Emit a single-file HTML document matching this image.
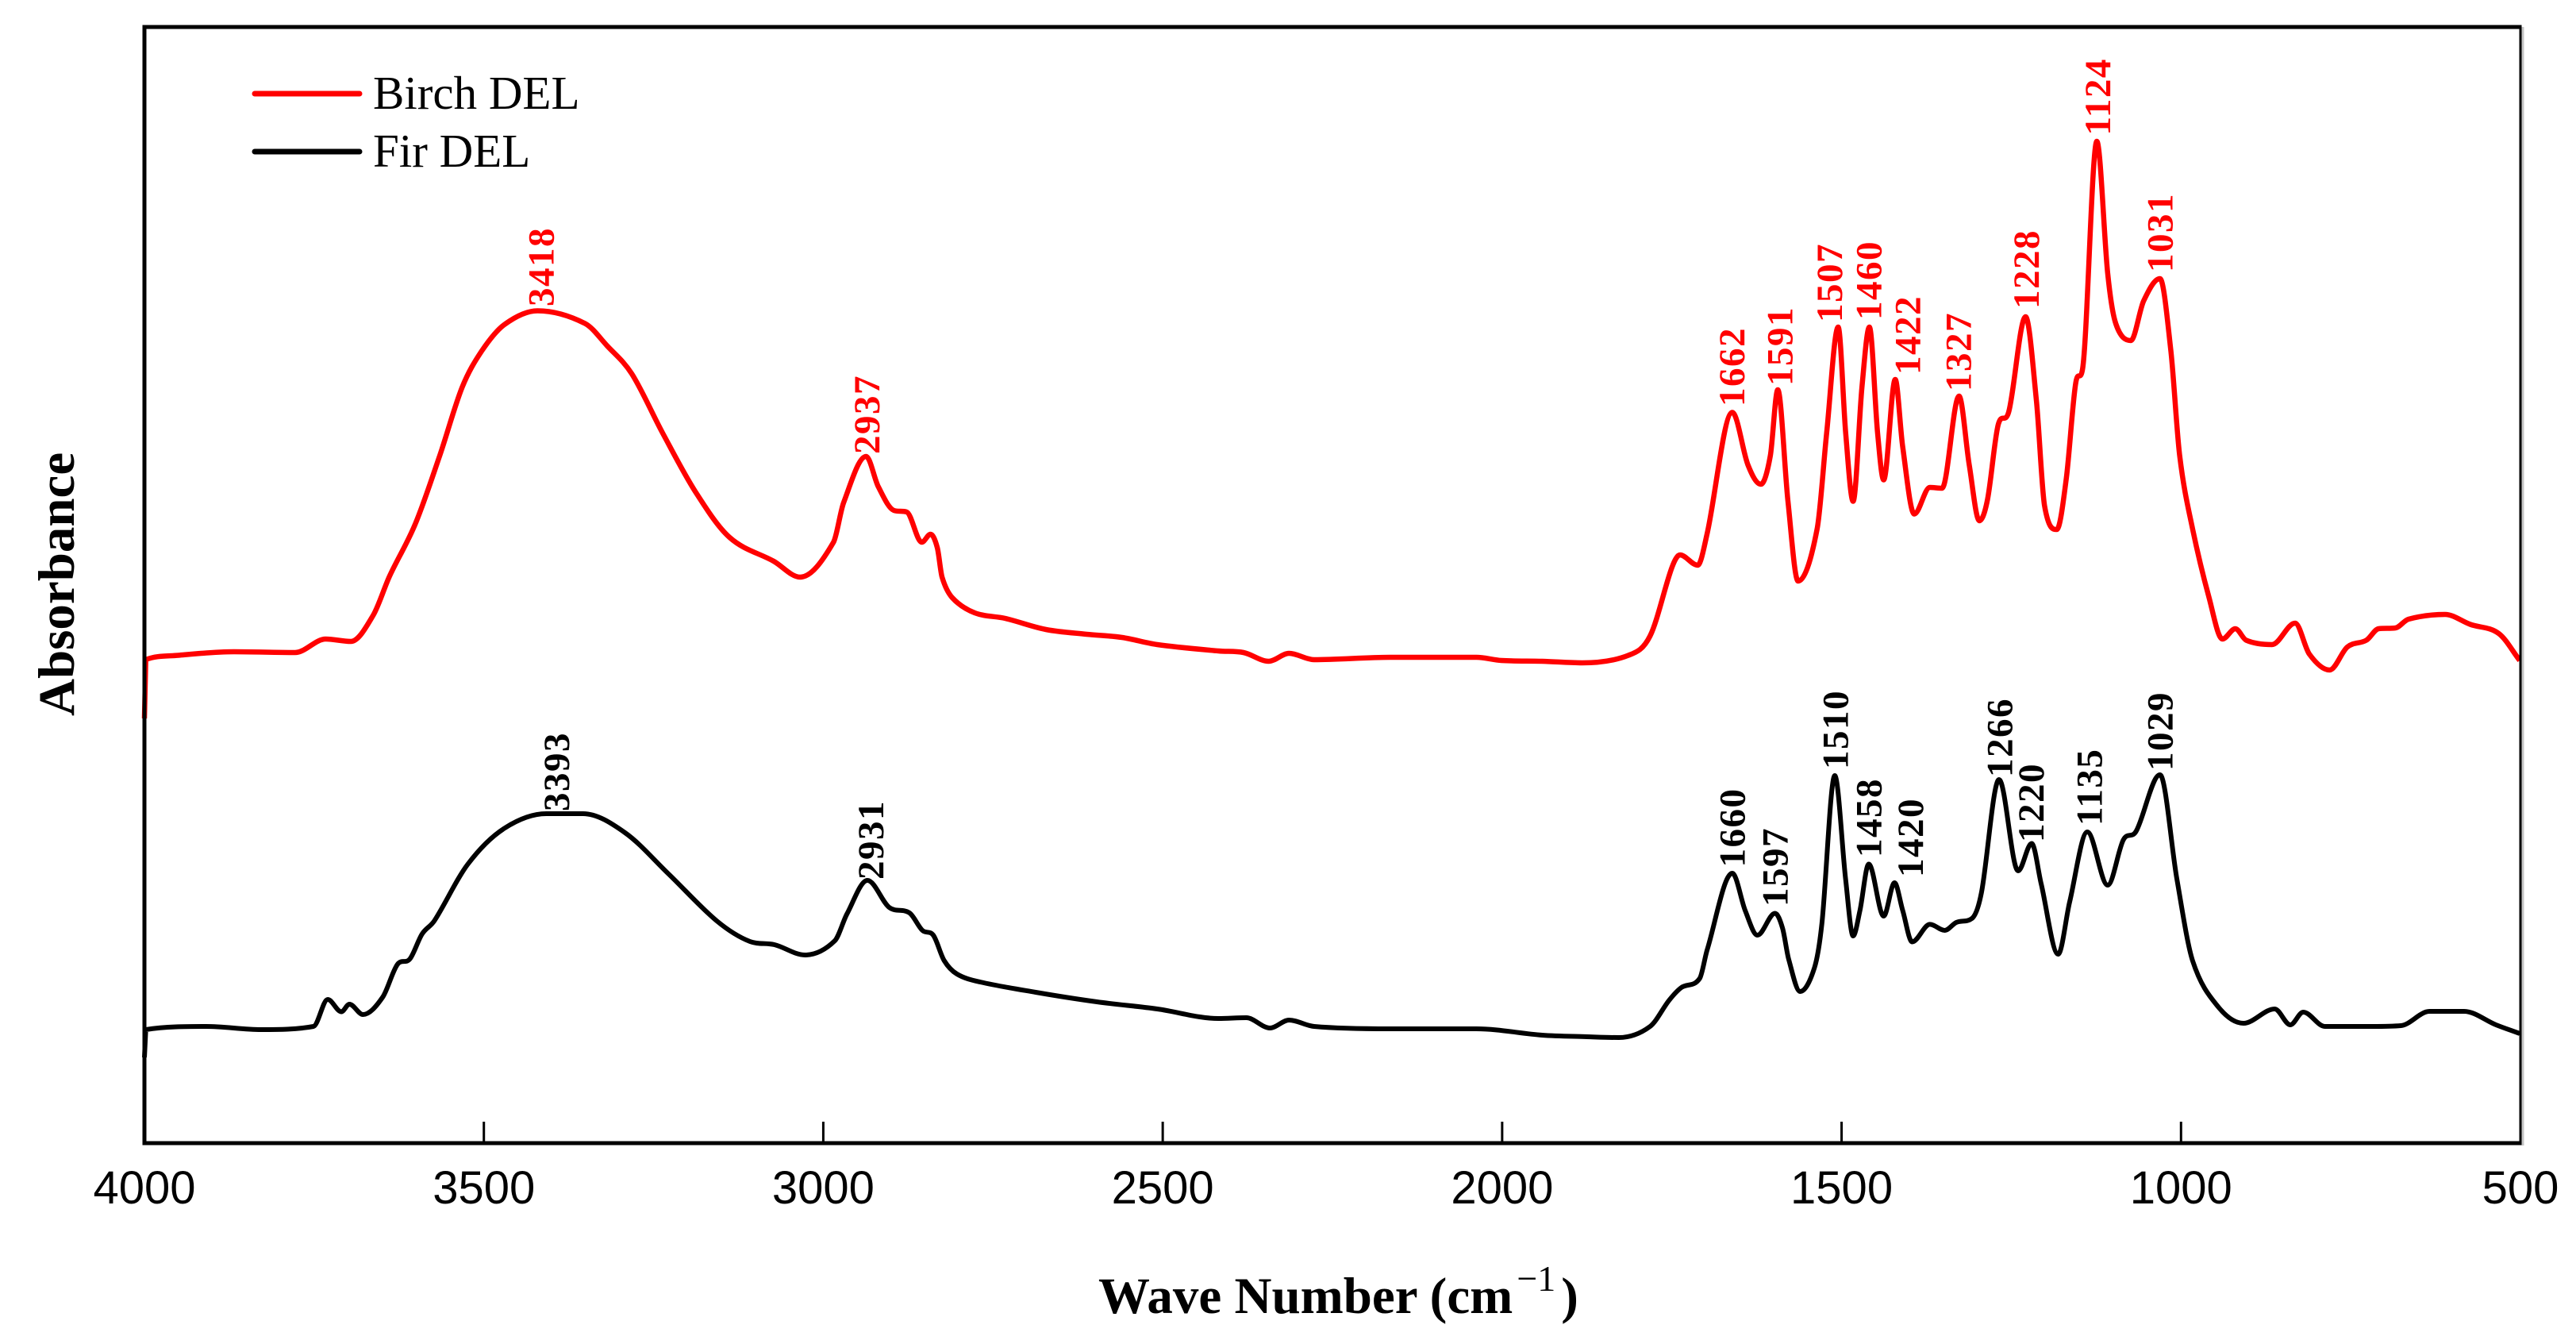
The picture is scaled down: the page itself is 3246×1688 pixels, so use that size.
<!DOCTYPE html>
<html lang="en">
<head>
<meta charset="utf-8">
<title>FTIR spectra of Birch DEL and Fir DEL</title>
<style>
  html, body { margin: 0; padding: 0; background: #fff; }
  #chart { display: block; }
  text { font-family: "Liberation Serif", serif; }
</style>
</head>
<body>
<svg id="chart" xmlns="http://www.w3.org/2000/svg" width="3246" height="1688" viewBox="0 0 3246 1688">
  <rect x="0" y="0" width="3246" height="1688" fill="#ffffff"/>
  <g id="series-layer"></g>
  <g id="peak-layer"></g>
  <g id="axis-layer"></g>

  <line x1="321" y1="118" x2="453" y2="118" stroke="#ff0000" stroke-width="7" stroke-linecap="round"/>
  <text x="470" y="137" font-size="59" fill="#000">Birch DEL</text>
  <line x1="321" y1="191" x2="453" y2="191" stroke="#000000" stroke-width="7" stroke-linecap="round"/>
  <text x="470" y="210" font-size="59" fill="#000">Fir DEL</text>

  <text transform="translate(93,902) rotate(-90)" font-size="65" font-weight="bold" fill="#000">Absorbance</text>
  <text x="1384" y="1654" font-size="65" font-weight="bold" fill="#000">Wave Number (cm<tspan font-size="46" font-weight="normal" dx="5" dy="-28">−1</tspan><tspan dx="7" dy="28">)</tspan></text>
</svg>

<script>
const birchWave = [4000,3998,3950,3868,3778,3733,3696,3663,3639,3601,3565,3532,3503,3470,3421,3351,3318,3282,3237,3188,3138,3073,3034,2985,2970,2937,2919,2896,2877,2855,2842,2832,2825,2810,2777,2732,2672,2612,2560,2508,2418,2381,2344,2314,2277,2165,2038,2001,1941,1882,1814,1782,1750,1738,1712,1698,1661,1638,1619,1605,1594,1579,1564,1536,1522,1505,1494,1483,1470,1459,1447,1438,1421,1410,1393,1370,1352,1327,1312,1297,1285,1269,1254,1229,1213,1201,1183,1169,1155,1145,1124,1108,1096,1074,1055,1031,1015,1002,983,959,939,920,904,866,832,811,781,755,727,709,684,665,611,574,532,501];
const birchAbs = [0.535,0.609,0.6145,0.619,0.618,0.635,0.632,0.665,0.714,0.780,0.866,0.952,0.998,1.031,1.0485,1.0325,1.004,0.969,0.895,0.820,0.763,0.733,0.713,0.757,0.807,0.865,0.827,0.797,0.795,0.757,0.767,0.750,0.713,0.687,0.668,0.661,0.647,0.641,0.637,0.628,0.620,0.618,0.607,0.617,0.609,0.612,0.612,0.608,0.607,0.605,0.6145,0.639,0.725,0.741,0.728,0.768,0.9205,0.8545,0.830,0.866,0.949,0.8085,0.708,0.774,0.895,1.028,0.895,0.8085,0.952,1.028,0.895,0.8355,0.962,0.877,0.7925,0.826,0.825,0.941,0.8545,0.784,0.811,0.906,0.9205,1.041,0.935,0.803,0.773,0.837,0.958,0.975,1.262,1.0956,1.032,1.011,1.061,1.089,0.998,0.866,0.774,0.688,0.635,0.648,0.6335,0.628,0.655,0.616,0.596,0.625,0.6335,0.648,0.649,0.660,0.666,0.6535,0.642,0.608];

const firWave = [4000,3998,3909,3828,3751,3730,3710,3698,3678,3649,3627,3609,3591,3573,3524,3470,3408,3354,3292,3229,3157,3108,3072,3027,2983,2965,2935,2903,2873,2854,2838,2822,2803,2769,2687,2597,2508,2418,2377,2342,2314,2277,2165,2038,1941,1875,1828,1782,1754,1736,1709,1698,1661,1642,1624,1598,1587,1578,1561,1540,1529,1510,1494,1483,1473,1460,1438,1422,1410,1396,1370,1348,1331,1308,1294,1268,1240,1220,1206,1181,1164,1138,1108,1085,1066,1031,1006,983,945,908,862,839,820,788,718,676,634,583,536,501];
const firAbs = [0.108,0.143,0.147,0.143,0.147,0.181,0.1655,0.175,0.162,0.184,0.2255,0.232,0.2635,0.280,0.351,0.3965,0.415,0.415,0.391,0.340,0.280,0.254,0.250,0.237,0.255,0.289,0.331,0.297,0.290,0.268,0.262,0.230,0.213,0.203,0.190,0.178,0.169,0.157,0.158,0.145,0.155,0.147,0.144,0.144,0.136,0.134,0.133,0.147,0.180,0.196,0.2075,0.2435,0.340,0.293,0.262,0.2895,0.271,0.232,0.191,0.221,0.277,0.463,0.332,0.261,0.293,0.3515,0.286,0.328,0.293,0.2535,0.2756,0.268,0.278,0.283,0.3155,0.458,0.343,0.3775,0.3265,0.238,0.304,0.392,0.325,0.382,0.393,0.464,0.332,0.230,0.1715,0.151,0.169,0.149,0.165,0.147,0.147,0.148,0.166,0.166,0.149,0.138];

const xTickValues = [4000,3500,3000,2500,2000,1500,1000,500];

const birchPeakLabels = ["3418","2937","1662","1591","1507","1460","1422","1327","1228","1124","1031"];
const birchPeakWave = [3415,2935,1661,1590,1517,1459,1402,1327,1227,1122,1030];
const birchPeakAbs = [1.058,0.872,0.932,0.958,1.038,1.041,0.972,0.951,1.055,1.2735,1.101];

const firPeakLabels = ["3393","2931","1660","1597","1510","1458","1420","1266","1220","1135","1029"];
const firPeakWave = [3392,2929,1660,1597,1508,1459,1398,1266,1220,1134,1030];
const firPeakAbs = [0.422,0.336,0.3515,0.302,0.475,0.364,0.339,0.465,0.383,0.404,0.473];

const plotLeft = 182, plotRight = 3176, plotTop = 34, plotBottom = 1440;
const waveMax = 4000, waveMin = 500, absMin = 0, absMax = 1.406;

function xScale(w) {
  return plotLeft + (waveMax - w) / (waveMax - waveMin) * (plotRight - plotLeft);
}
function yScale(a) {
  return plotBottom - (a - absMin) / (absMax - absMin) * (plotBottom - plotTop);
}

const NS = "http://www.w3.org/2000/svg";
const seriesLayer = document.getElementById("series-layer");
const peakLayer = document.getElementById("peak-layer");
const axisLayer = document.getElementById("axis-layer");

/* Monotone cubic path through the data so that peaks stay on their read values. */
function curveOf(waves, values) {
  const xs = waves.map(xScale);
  const ys = values.map(yScale);
  const n = xs.length;
  const slopes = [];
  for (let i = 0; i < n - 1; i++) {
    slopes.push((ys[i + 1] - ys[i]) / (xs[i + 1] - xs[i]));
  }
  const tangents = [slopes[0]];
  for (let i = 1; i < n - 1; i++) {
    if (slopes[i - 1] * slopes[i] <= 0) {
      tangents.push(0);
    } else {
      const central = (ys[i + 1] - ys[i - 1]) / (xs[i + 1] - xs[i - 1]);
      const limit = 3 * Math.min(Math.abs(slopes[i - 1]), Math.abs(slopes[i]));
      tangents.push(Math.sign(central) * Math.min(Math.abs(central), limit));
    }
  }
  tangents.push(slopes[n - 2]);
  let d = "M" + xs[0].toFixed(1) + "," + ys[0].toFixed(1) + " L" + xs[1].toFixed(1) + "," + ys[1].toFixed(1);
  for (let i = 1; i < n - 1; i++) {
    const h = (xs[i + 1] - xs[i]) / 3;
    d += " C" + (xs[i] + h).toFixed(1) + "," + (ys[i] + tangents[i] * h).toFixed(1) +
         " " + (xs[i + 1] - h).toFixed(1) + "," + (ys[i + 1] - tangents[i + 1] * h).toFixed(1) +
         " " + xs[i + 1].toFixed(1) + "," + ys[i + 1].toFixed(1);
  }
  return d;
}

const birchLine = document.createElementNS(NS, "path");
birchLine.setAttribute("d", curveOf(birchWave, birchAbs));
birchLine.setAttribute("fill", "none");
birchLine.setAttribute("stroke", "#ff0000");
birchLine.setAttribute("stroke-width", "6.5");
birchLine.setAttribute("stroke-linejoin", "round");


seriesLayer.appendChild(birchLine);

const firLine = document.createElementNS(NS, "path");
firLine.setAttribute("d", curveOf(firWave, firAbs));
firLine.setAttribute("fill", "none");
firLine.setAttribute("stroke", "#000000");
firLine.setAttribute("stroke-width", "6");
firLine.setAttribute("stroke-linejoin", "round");


seriesLayer.appendChild(firLine);

birchPeakLabels.forEach(function (label, i) {
  const t = document.createElementNS(NS, "text");
  t.setAttribute("transform", "translate(" + (xScale(birchPeakWave[i]) + 15).toFixed(1) + "," + (yScale(birchPeakAbs[i]) + 4).toFixed(1) + ") rotate(-90)");
  t.setAttribute("font-size", "47");
  t.setAttribute("font-weight", "bold");
  t.setAttribute("letter-spacing", "1.5");
  t.setAttribute("fill", "#ff0000");
  
  
  t.textContent = label;
  peakLayer.appendChild(t);
});

firPeakLabels.forEach(function (label, i) {
  const t = document.createElementNS(NS, "text");
  t.setAttribute("transform", "translate(" + (xScale(firPeakWave[i]) + 15).toFixed(1) + "," + (yScale(firPeakAbs[i]) + 4).toFixed(1) + ") rotate(-90)");
  t.setAttribute("font-size", "47");
  t.setAttribute("font-weight", "bold");
  t.setAttribute("letter-spacing", "1.5");
  t.setAttribute("fill", "#000000");
  
  
  t.textContent = label;
  peakLayer.appendChild(t);
});

const shadow = document.createElementNS(NS, "line");
shadow.setAttribute("x1", plotRight + 3);
shadow.setAttribute("y1", plotTop);
shadow.setAttribute("x2", plotRight + 3);
shadow.setAttribute("y2", plotBottom + 3);
shadow.setAttribute("stroke", "#c4c4c4");
shadow.setAttribute("stroke-width", "3");


axisLayer.appendChild(shadow);

const frameRight = document.createElementNS(NS, "line");
frameRight.setAttribute("x1", plotRight);
frameRight.setAttribute("y1", plotTop);
frameRight.setAttribute("x2", plotRight);
frameRight.setAttribute("y2", plotBottom);
frameRight.setAttribute("stroke", "#000");
frameRight.setAttribute("stroke-width", "3");


axisLayer.appendChild(frameRight);

const frameLeft = document.createElementNS(NS, "line");
frameLeft.setAttribute("x1", plotLeft);
frameLeft.setAttribute("y1", plotTop - 2.5);
frameLeft.setAttribute("x2", plotLeft);
frameLeft.setAttribute("y2", plotBottom + 2.5);
frameLeft.setAttribute("stroke", "#000");
frameLeft.setAttribute("stroke-width", "5");


axisLayer.appendChild(frameLeft);

const frameTop = document.createElementNS(NS, "line");
frameTop.setAttribute("x1", plotLeft);
frameTop.setAttribute("y1", plotTop);
frameTop.setAttribute("x2", plotRight + 1.5);
frameTop.setAttribute("y2", plotTop);
frameTop.setAttribute("stroke", "#000");
frameTop.setAttribute("stroke-width", "5");


axisLayer.appendChild(frameTop);

const frameBottom = document.createElementNS(NS, "line");
frameBottom.setAttribute("x1", plotLeft);
frameBottom.setAttribute("y1", plotBottom);
frameBottom.setAttribute("x2", plotRight + 1.5);
frameBottom.setAttribute("y2", plotBottom);
frameBottom.setAttribute("stroke", "#000");
frameBottom.setAttribute("stroke-width", "5");


axisLayer.appendChild(frameBottom);

xTickValues.forEach(function (w) {
  const x = xScale(w);
  if (w !== waveMax && w !== waveMin) {
    const tick = document.createElementNS(NS, "line");
    tick.setAttribute("x1", x);
    tick.setAttribute("y1", plotBottom);
    tick.setAttribute("x2", x);
    tick.setAttribute("y2", plotBottom - 27);
    tick.setAttribute("stroke", "#000");
    tick.setAttribute("stroke-width", "3");
    
    
    axisLayer.appendChild(tick);
  }
  const label = document.createElementNS(NS, "text");
  label.setAttribute("x", x);
  label.setAttribute("y", 1516);
  label.setAttribute("text-anchor", "middle");
  label.setAttribute("font-size", "58");
  label.setAttribute("fill", "#000");
  label.setAttribute("style", 'font-family:"Liberation Sans",sans-serif');
  
  
  label.textContent = String(w);
  axisLayer.appendChild(label);
});
</script>
</body>
</html>
